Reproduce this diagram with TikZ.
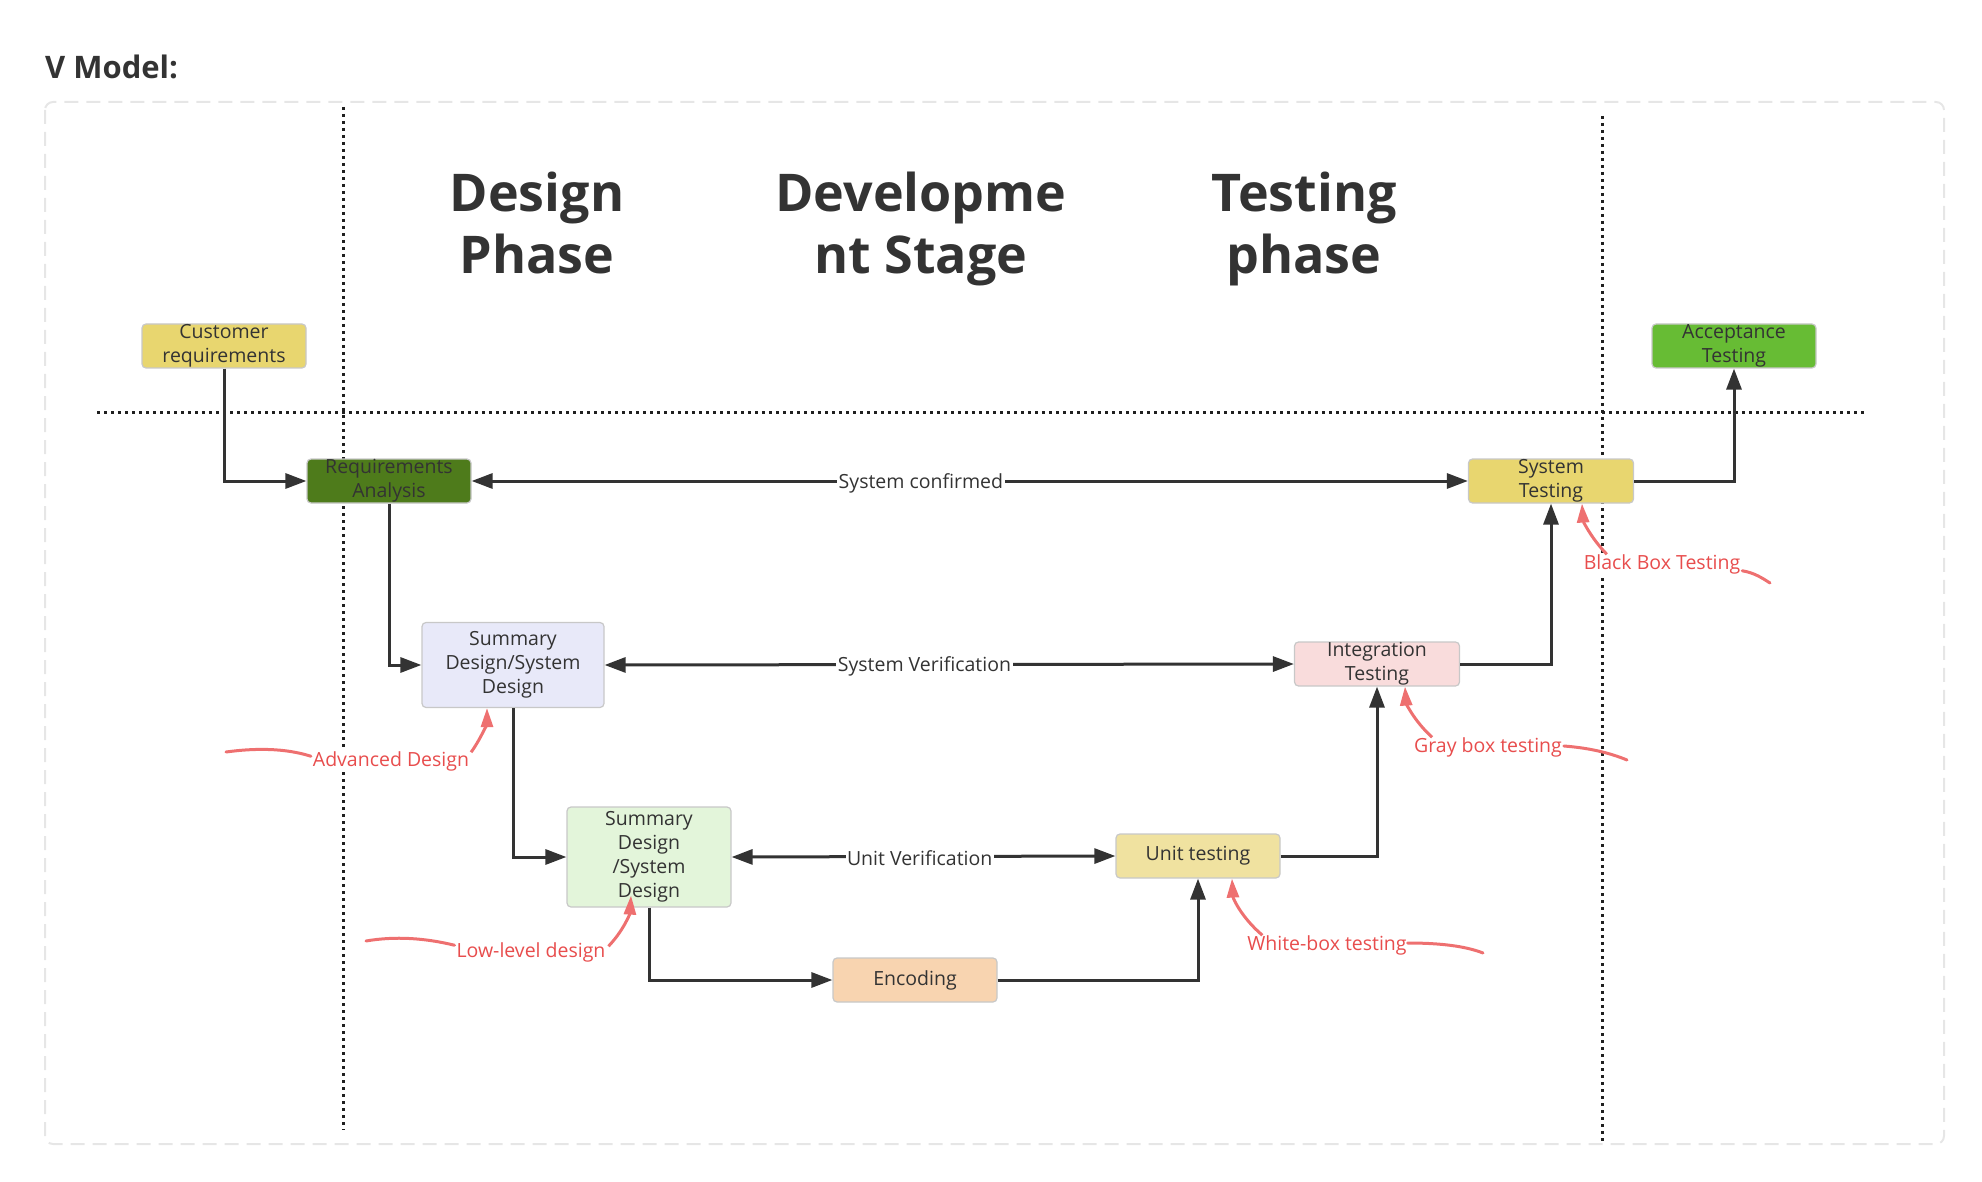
\documentclass[tikz,border=0pt]{standalone}
\usepackage{fontspec}
\setmainfont{Open Sans}
\usetikzlibrary{arrows.meta}
\definecolor{textdark}{HTML}{333333}
\definecolor{linedark}{HTML}{333333}
\definecolor{boxborder}{HTML}{C8C8C8}
\definecolor{framegray}{HTML}{E6E6E6}
\definecolor{annred}{HTML}{E84D4D}
\definecolor{annline}{HTML}{EE7070}
\definecolor{fyellow}{HTML}{E8D66F}
\definecolor{fdkgreen}{HTML}{4E7B1B}
\definecolor{fblue}{HTML}{E8E9F9}
\definecolor{fltgreen}{HTML}{E3F5DA}
\definecolor{forange}{HTML}{F8D4B0}
\definecolor{fpaleyel}{HTML}{F0E2A0}
\definecolor{fpink}{HTML}{F9DCDC}
\definecolor{fgreen}{HTML}{67BC34}
\begin{document}
\begin{tikzpicture}[x=1pt,y=-1pt,
  box/.style={draw=boxborder, line width=1.2pt, rounded corners=4pt, align=center,
    font=\fontsize{19.5}{24}\selectfont, text=textdark, inner sep=0pt},
  conn/.style={draw=linedark, line width=3pt, -{Triangle[length=21pt,width=15pt]}},
  dconn/.style={draw=linedark, line width=3pt, {Triangle[length=21pt,width=15pt]}-{Triangle[length=21pt,width=15pt]}},
  lbl/.style={fill=white, text=textdark, font=\fontsize{19.5}{24}\selectfont, inner sep=1.5pt, yshift=-2pt},
  hdr/.style={font=\fontsize{52}{62}\selectfont\bfseries, text=textdark, align=center},
  ann/.style={text=annred, fill=white, font=\fontsize{19.5}{24}\selectfont, inner sep=0pt, outer sep=0pt},
  annstroke/.style={draw=annline, line width=3pt, line cap=round},
  annarrow/.style={draw=annline, line width=3pt, -{Triangle[length=19pt,width=12pt]}},
  dotline/.style={draw=black!88, line width=3pt, dash pattern=on 3pt off 4pt}
]
\useasboundingbox (0,0) rectangle (1982,1182);

% title
\node[anchor=base west, font=\fontsize{31}{36}\selectfont\bfseries, text=textdark, inner sep=0pt] (title) at (45,79) {V Model:};

% outer frame
\draw[draw=framegray, line width=2pt, dash pattern=on 14pt off 8pt, rounded corners=8pt] (45,102) rectangle (1944,1144);

% dotted guide lines
\draw[dotline] (343,107) -- (343,1130);
\draw[dotline] (1602,116) -- (1602,1144);
\draw[dotline] (97,412) -- (1864,412);

% headers
\node[hdr] (h1) at (537,223) {Design\\Phase};
\node[hdr] (h2) at (921,229) {Developme\\nt Stage};
\node[hdr] (h3) at (1304,229) {Testing\\phase};

% boxes
\node[box, fill=fyellow, minimum width=164pt, minimum height=44pt] (cust) at (224,346) {Customer\\requirements};
\node[box, fill=fdkgreen, minimum width=164pt, minimum height=44pt] (req) at (389,481) {Requirements\\Analysis};
\node[box, fill=fblue, minimum width=182pt, minimum height=85pt] (sd1) at (513,665) {Summary\\Design/System\\Design};
\node[box, fill=fltgreen, minimum width=164pt, minimum height=100pt] (sd2) at (649,857) {Summary\\Design\\/System\\Design};
\node[box, fill=forange, minimum width=164pt, minimum height=44pt] (enc) at (915,980) {Encoding};
\node[box, fill=fpaleyel, minimum width=164pt, minimum height=44pt] (unit) at (1198,856) {Unit testing};
\node[box, fill=fpink, minimum width=165pt, minimum height=44pt] (integ) at (1377,664) {Integration\\Testing};
\node[box, fill=fyellow, minimum width=165pt, minimum height=44pt] (sys) at (1551,481) {System\\Testing};
\node[box, fill=fgreen, minimum width=164pt, minimum height=44pt] (acc) at (1734,346) {Acceptance\\Testing};

% flow connectors
\draw[conn] (cust.south) |- (req.west);
\draw[conn] (req.south) |- (sd1.west);
\draw[conn] (sd1.south) |- (sd2.west);
\draw[conn] (sd2.south) |- (enc.west);
\draw[conn] (enc.east) -| (unit.south);
\draw[conn] (unit.east) -| (integ.south);
\draw[conn] (integ.east) -| (sys.south);
\draw[conn] (sys.east) -| (acc.south);

% verification links
\draw[dconn] (req.east) -- node[lbl, pos=0.451] {System confirmed} (sys.west);
\draw[dconn] (sd1.east) -- node[lbl, pos=0.464] {System Verification} (integ.west);
\draw[dconn] (sd2.east) -- node[lbl, pos=0.49] {Unit Verification} (unit.west);

% annotations
\node[ann] (advT) at (391,761) {Advanced Design};
\draw[annstroke] ([xshift=-2pt,yshift=-5pt]advT.north west) .. controls (285,748) and (255,748) .. (226,752);
\draw[annarrow] ([xshift=2pt,yshift=-1pt]advT.north east) .. controls (482,737) and (487,722) .. ([xshift=-26pt]sd1.south);

\node[ann] (lowT) at (531,952) {Low-level design};
\draw[annstroke] ([xshift=-2pt,yshift=-3pt]lowT.north west) .. controls (425,938) and (395,936) .. (366,941);
\draw[annarrow] ([xshift=3pt,yshift=-4pt]lowT.north east) .. controls (624,930) and (630,913) .. ([xshift=-18pt,yshift=12pt]sd2.south);

\node[ann] (wbT) at (1327,945) {White-box testing};
\draw[annstroke] ([xshift=1pt,yshift=2pt]wbT.east) .. controls (1440,943) and (1465,946) .. (1483,953);
\draw[annarrow] ([xshift=15pt]wbT.north west) .. controls (1241,917) and (1233,898) .. ([xshift=34pt]unit.south);

\node[ann] (grT) at (1488,747) {Gray box testing};
\draw[annstroke] ([xshift=2pt,yshift=1pt]grT.east) .. controls (1590,748) and (1610,753) .. (1627,760);
\draw[annarrow] ([xshift=18pt]grT.north west) .. controls (1413,720) and (1406,702) .. ([xshift=28pt]integ.south);

\node[ann] (bbT) at (1662,564) {Black Box Testing};
\draw[annstroke] ([xshift=2pt,yshift=3pt]bbT.south east) .. controls (1755,573) and (1762,578) .. (1770,583);
\draw[annarrow] ([xshift=23pt]bbT.north west) .. controls (1590,537) and (1583,520) .. ([xshift=31pt]sys.south);
\end{tikzpicture}
\end{document}
